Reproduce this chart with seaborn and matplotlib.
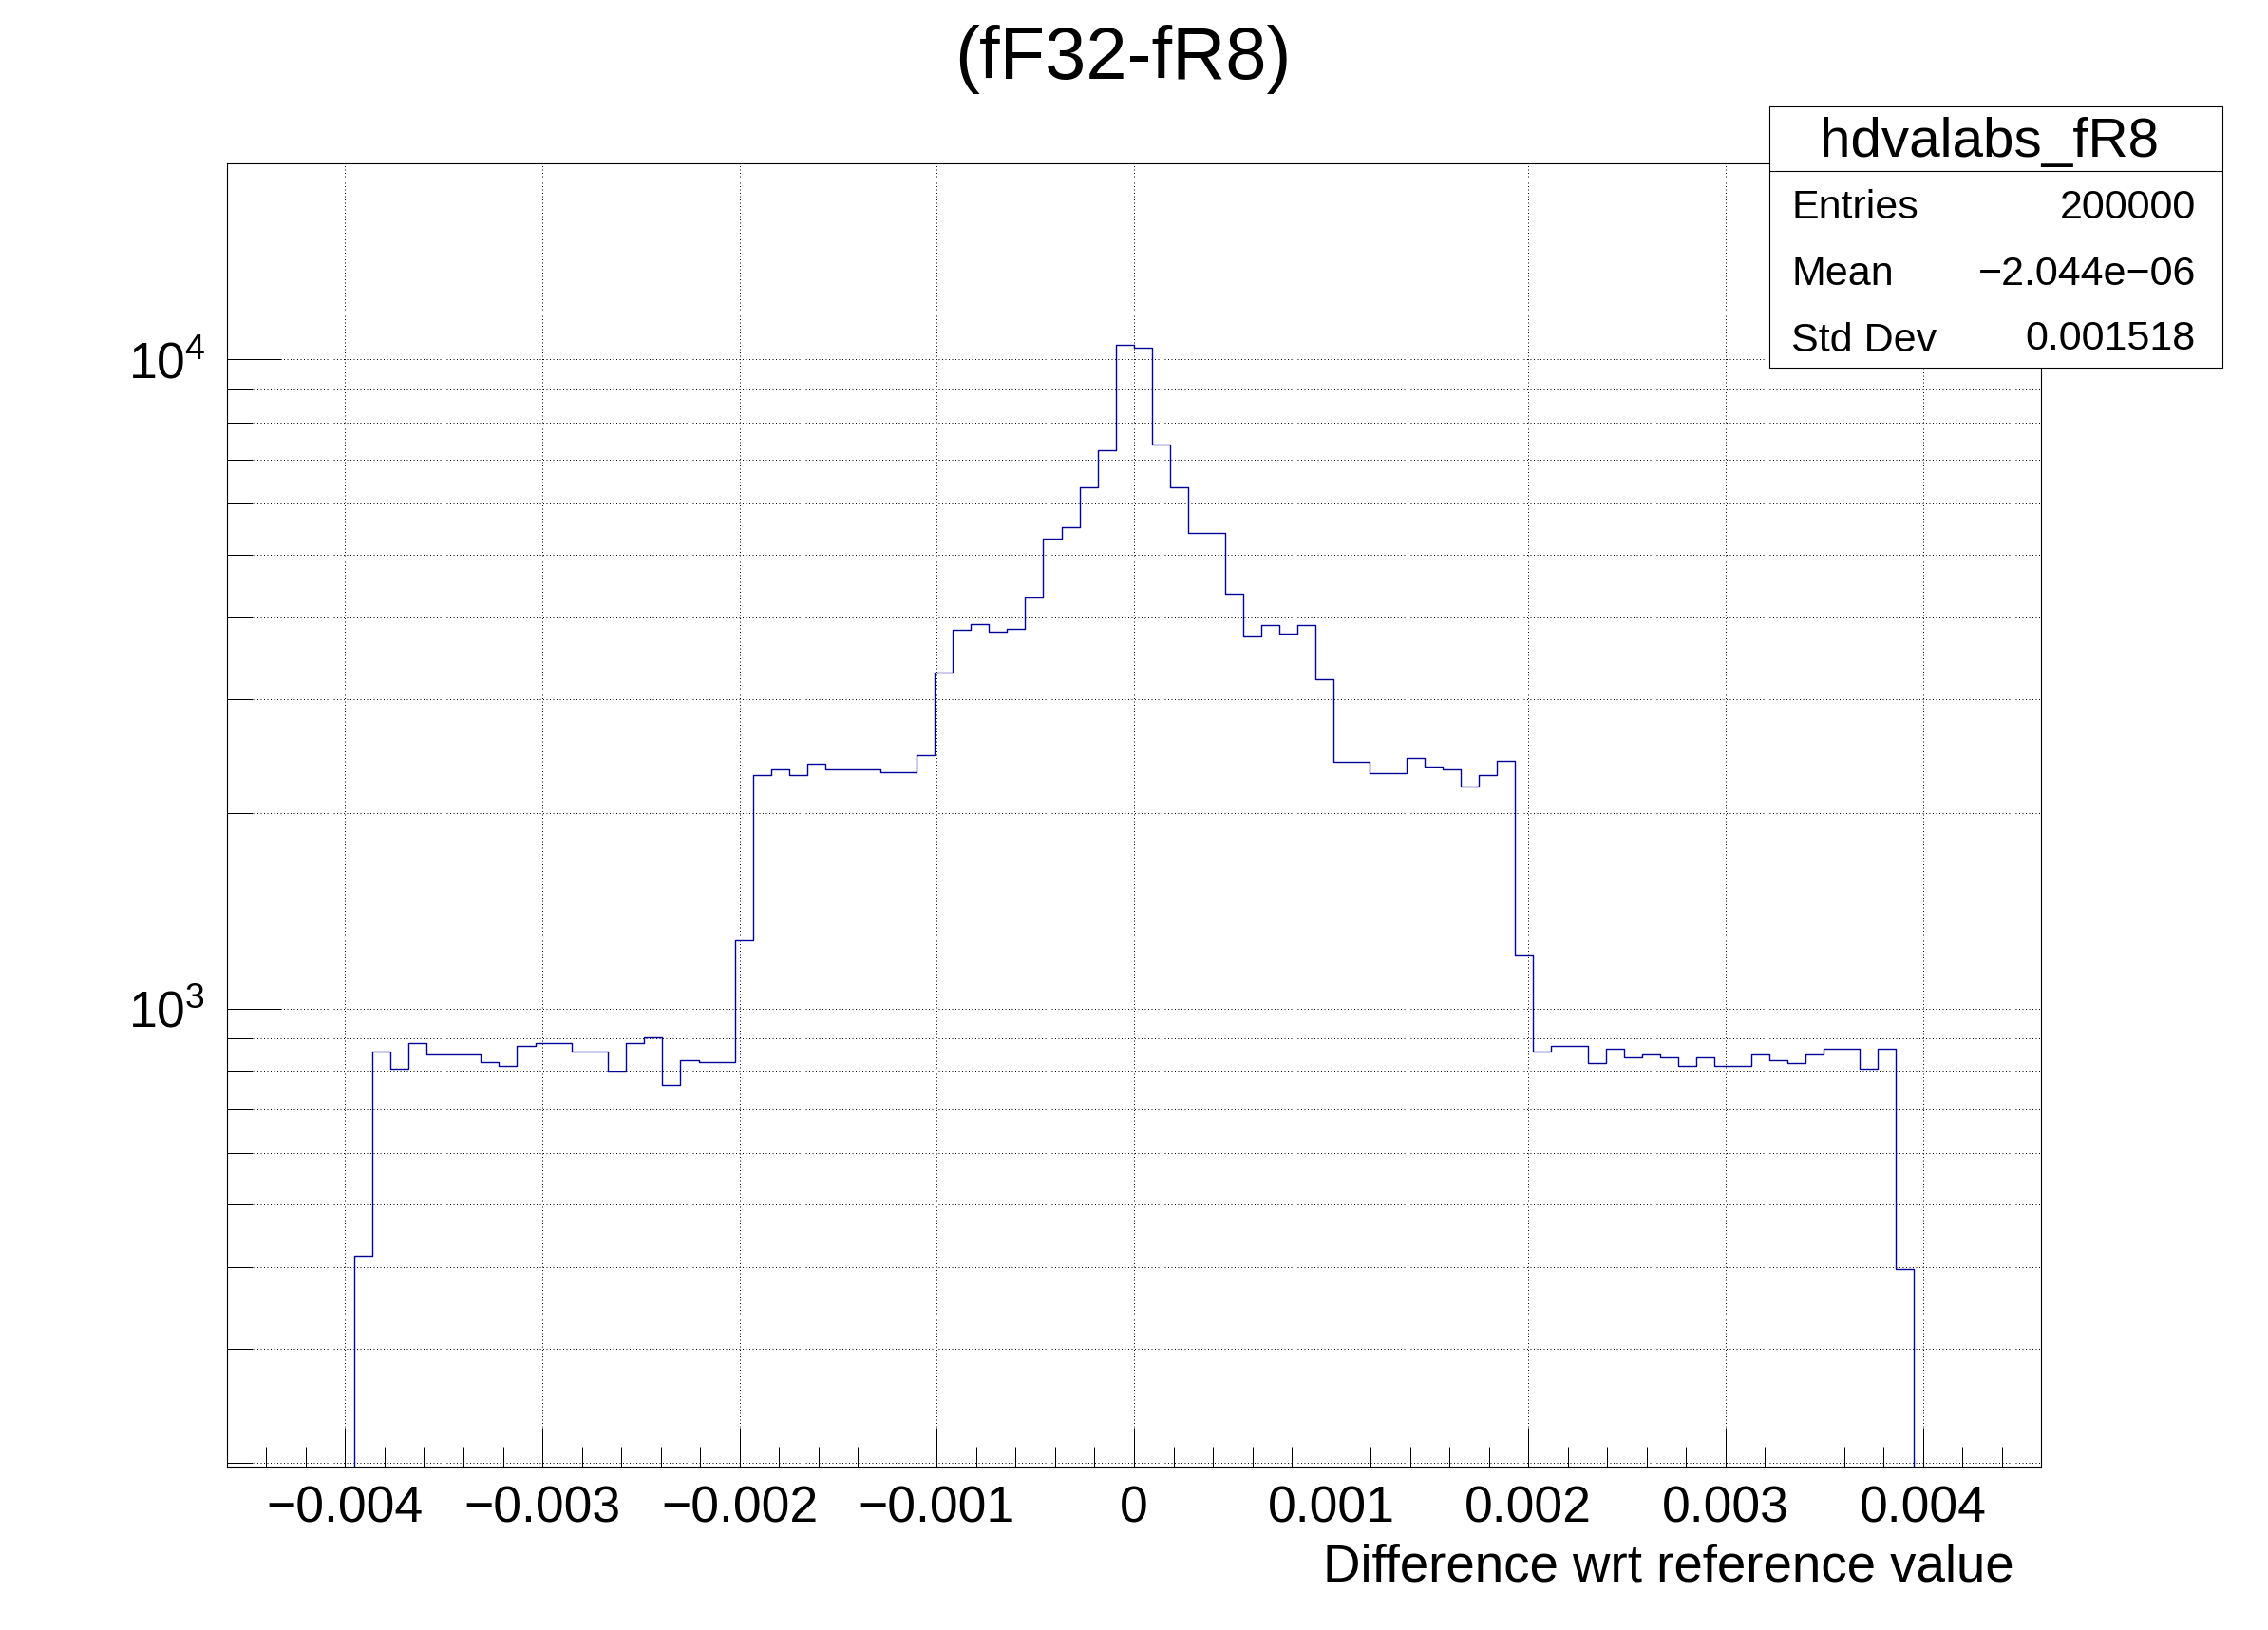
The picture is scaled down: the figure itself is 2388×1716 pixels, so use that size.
import numpy as np
import pandas as pd
import matplotlib
matplotlib.use("Agg")
import matplotlib.pyplot as plt
from matplotlib.patches import Rectangle
from matplotlib.lines import Line2D
from matplotlib.ticker import FixedLocator, FixedFormatter, NullFormatter
import seaborn as sns

# histogram binning: 100 bins over the axis range
x_low, x_high, n_bins = -0.0046, 0.0046, 100

# bin contents (bins 0..99)
counts = [
    0, 0, 0, 0, 0, 0, 0, 417, 860, 809,
    886, 851, 851, 851, 827, 818, 877, 886, 886, 860,
    860, 801, 886, 904, 763, 834, 827, 827, 1276, 2293,
    2339, 2293, 2386, 2339, 2339, 2339, 2316, 2316, 2462, 3301,
    3840, 3917, 3806, 3845, 4297, 5290, 5509, 6346, 7237, 10519,
    10425, 7393, 6346, 5404, 5404, 4365, 3750, 3905, 3789, 3905,
    3220, 2404, 2404, 2309, 2309, 2434, 2362, 2338, 2200, 2291,
    2410, 1210, 859, 877, 877, 826, 869, 843, 852, 843,
    818, 843, 818, 818, 852, 835, 826, 852, 869, 869,
    810, 869, 397, 0, 0, 0, 0, 0, 0, 0,
]

x_major_ticks = [-0.004, -0.003, -0.002, -0.001, 0.0, 0.001, 0.002, 0.003, 0.004]
x_tick_labels = ["\u22120.004", "\u22120.003", "\u22120.002", "\u22120.001", "0",
                 "0.001", "0.002", "0.003", "0.004"]
x_minor_ticks = [-0.0044, -0.0042, -0.0038, -0.0036, -0.0034, -0.0032,
                 -0.0028, -0.0026, -0.0024, -0.0022, -0.0018, -0.0016, -0.0014, -0.0012,
                 -0.0008, -0.0006, -0.0004, -0.0002, 0.0002, 0.0004, 0.0006, 0.0008,
                 0.0012, 0.0014, 0.0016, 0.0018, 0.0022, 0.0024, 0.0026, 0.0028,
                 0.0032, 0.0034, 0.0036, 0.0038, 0.0042, 0.0044]
y_major_ticks = [1e3, 1e4]
y_tick_labels = [r"$\mathdefault{10^{3}}$", r"$\mathdefault{10^{4}}$"]
y_minor_ticks = [200, 300, 400, 500, 600, 700, 800, 900,
                 2000, 3000, 4000, 5000, 6000, 7000, 8000, 9000]
y_low, y_high = 197, 20070

title = "(fF32-fR8)"
x_title = "Difference wrt reference value"
stats_name = "hdvalabs_fR8"
stats_keys = ["Entries", "Mean", "Std Dev"]
stats_vals = ["200000", "\u22122.044e\u221206", "0.001518"]

sns.set_style("white")
plt.rcParams["font.family"] = ["Liberation Sans", "DejaVu Sans"]
plt.rcParams["mathtext.fontset"] = "custom"
plt.rcParams["mathtext.rm"] = "Liberation Sans"
plt.rcParams["mathtext.it"] = "Liberation Sans:italic"
plt.rcParams["mathtext.bf"] = "Liberation Sans:bold"
for key in ["text.color", "axes.labelcolor", "xtick.color", "ytick.color", "axes.edgecolor"]:
    plt.rcParams[key] = "black"

fig = plt.figure(figsize=(23.88, 17.16), dpi=100)
ax = fig.add_axes([0.1, 0.1, 0.8, 0.8])

bin_width = (x_high - x_low) / n_bins
hist_df = pd.DataFrame({
    "x": x_low + bin_width * (np.arange(n_bins) + 0.5),
    "count": counts,
})
sns.histplot(data=hist_df, x="x", weights="count", bins=n_bins,
             binrange=(x_low, x_high), element="step", fill=False,
             color="#000099", linewidth=1.0, ax=ax)

ax.set_yscale("log")
ax.set_xlim(x_low, x_high)
ax.set_ylim(y_low, y_high)
ax.set_ylabel("")

ax.xaxis.set_major_locator(FixedLocator(x_major_ticks))
ax.xaxis.set_major_formatter(FixedFormatter(x_tick_labels))
ax.xaxis.set_minor_locator(FixedLocator(x_minor_ticks))
ax.yaxis.set_major_locator(FixedLocator(y_major_ticks))
ax.yaxis.set_major_formatter(FixedFormatter(y_tick_labels))
ax.yaxis.set_minor_locator(FixedLocator(y_minor_ticks))
ax.yaxis.set_minor_formatter(NullFormatter())

tick_kw = dict(direction="in", width=0.72, color="black", labelcolor="black")
ax.tick_params(axis="x", which="major", length=29.5, labelsize=38.5, pad=14,
               top=False, bottom=True, **tick_kw)
ax.tick_params(axis="x", which="minor", length=14.8, top=False, bottom=True, **tick_kw)
ax.tick_params(axis="y", which="major", length=41, labelsize=38.5, pad=16,
               right=False, left=True, **tick_kw)
ax.tick_params(axis="y", which="minor", length=19.7, right=False, left=True, **tick_kw)

grid_kw = dict(color="black", linewidth=0.72, linestyle=(0, (1, 2.5)))
ax.grid(True, which="major", axis="x", **grid_kw)
ax.grid(True, which="both", axis="y", **grid_kw)
ax.set_axisbelow(True)
for sp in ax.spines.values():
    sp.set_visible(True)
    sp.set_color("black")
    sp.set_linewidth(0.8)

ax.set_xlabel(x_title, fontsize=39.3, ha="right", va="baseline", color="black")
ax.xaxis.set_label_coords(0.9852, -0.0878)

fig.text(0.495, 0.9516, title, fontsize=56, ha="center", va="baseline", color="black")

# stats box
box_l, box_r, box_b, box_t = 0.7802, 0.9799, 0.7745, 0.9347
fig.add_artist(Rectangle((box_l, box_b), box_r - box_l, box_t - box_b,
                         transform=fig.transFigure, facecolor="white",
                         edgecolor="black", linewidth=0.8, zorder=5))
fig.add_artist(Line2D([box_l, box_r], [0.8951, 0.8951], transform=fig.transFigure,
                      color="black", linewidth=0.8, zorder=6))
fig.text(0.8769, 0.9038, stats_name, fontsize=42, ha="center", va="baseline",
         color="black", zorder=7)
for key, val, yb in zip(stats_keys, stats_vals, [0.8660, 0.8252, 0.7843]):
    fig.text(0.7898, yb, key, fontsize=31, ha="left", va="baseline", color="black", zorder=7)
    fig.text(0.9682, yb + (0.0012 if key == "Std Dev" else 0), val, fontsize=31,
             ha="right", va="baseline", color="black", zorder=7)

fig.savefig("out.png", dpi=100, facecolor="white")
